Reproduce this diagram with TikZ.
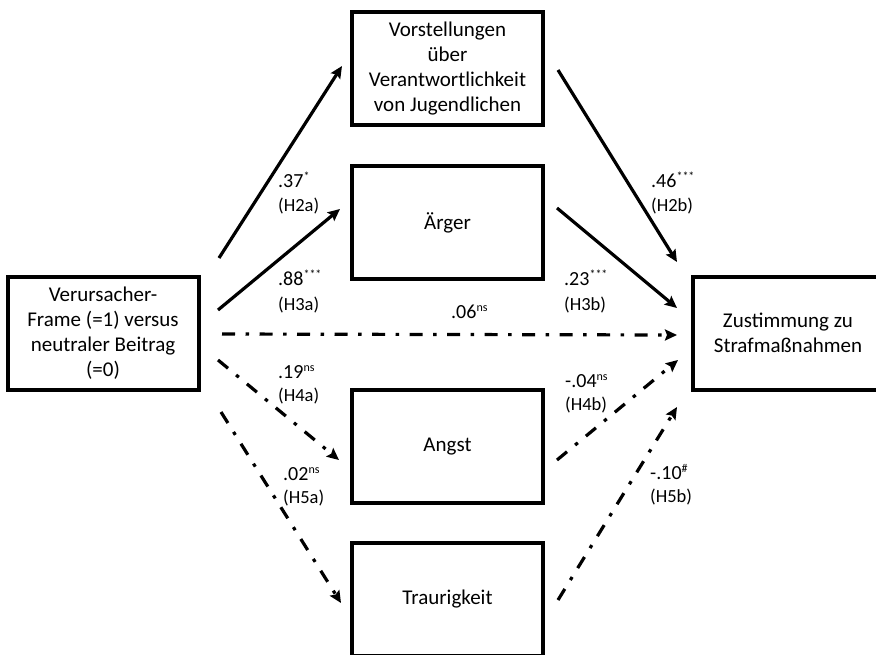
\documentclass[tikz,border=0pt]{standalone}
\usepackage{fontspec}
\setmainfont{Carlito}
\usetikzlibrary{arrows.meta,calc}
\newcommand\supsig[1]{\raisebox{7pt}{\fontsize{12}{12}\selectfont #1}}
\begin{document}
\begin{tikzpicture}[x=1pt,y=-1pt,
  box/.style={draw=black, line width=4pt, minimum width=191pt, minimum height=113pt,
    align=center, inner sep=0pt, outer sep=0pt, font=\fontsize{21}{25}\selectfont},
  arr/.style={line width=3.2pt, -{Stealth[length=12pt,width=11pt,inset=2pt]}},
  dd/.style={arr, dash pattern=on 13pt off 10.5pt on 3.5pt off 10.5pt},
  num/.style={anchor=base west, inner sep=0pt, font=\fontsize{20}{24}\selectfont},
  hyp/.style={anchor=base west, inner sep=0pt, font=\fontsize{18.5}{22}\selectfont}]
\useasboundingbox (0,0) rectangle (876,654);
\clip (0,0) rectangle (876,654);
\fill[white] (0,0) rectangle (876,654);

% boxes
\node[box] (L) at (103,333) {Verursacher-\\Frame (=1) versus\\neutraler Beitrag\\(=0)};
\node[box] (V) at (447.5,68.5) {Vorstellungen\\über\\Verantwortlichkeit\\von Jugendlichen};
\node[box] (A) at (447.5,222.5) {Ärger};
\node[box] (G) at (447.5,446.5) {Angst};
\node[box] (T) at (447.5,599.5) {Traurigkeit};
\node[box] (Z) at (788,333) {Zustimmung zu\\Strafmaßnahmen};

% a-paths
\draw[arr] ($(L)+(116,-75)$) -- ($(V)+(-105.5,-2.5)$);
\draw[arr] ($(L)+(115,-23)$) -- ($(A)+(-107.5,-13.5)$);
\draw[dd]  ($(L)+(119,1)$) -- ($(Z)+(-111,2)$);
\draw[dd]  ($(L)+(115,27)$) -- ($(G)+(-108.5,13.5)$);
\draw[dd]  ($(L)+(118,79)$) -- ($(T)+(-106.5,3.5)$);
% b-paths
\draw[arr] ($(V)+(110.5,1.5)$) -- ($(Z)+(-111,-71)$);
\draw[arr] ($(A)+(109.5,-14.5)$) -- ($(Z)+(-111,-25)$);
\draw[dd]  ($(G)+(109.5,13.5)$) -- ($(Z)+(-110,27)$);
\draw[dd]  ($(T)+(110.5,0.5)$) -- ($(Z)+(-111,74)$);

% labels
\node[num] (n2a) at (278,187) {.37\supsig{*}};
\node[hyp] (h2a) at (278,211) {(H2a)};
\node[num] (n3a) at (278,285) {.88\supsig{***}};
\node[hyp] (h3a) at (278,310) {(H3a)};
\node[num] (n06) at (451,318) {.06\supsig{ns}};
\node[num] (n2b) at (651,187) {.46\supsig{***}};
\node[hyp] (h2b) at (651,211) {(H2b)};
\node[num] (n3b) at (564,285) {.23\supsig{***}};
\node[hyp] (h3b) at (564,310) {(H3b)};
\node[num] (n4a) at (278,378) {.19\supsig{ns}};
\node[hyp] (h4a) at (278,401) {(H4a)};
\node[num] (n5a) at (283,480) {.02\supsig{ns}};
\node[hyp] (h5a) at (283,503) {(H5a)};
\node[num] (n4b) at (565,387) {-.04\supsig{ns}};
\node[hyp] (h4b) at (565,410) {(H4b)};
\node[num] (n5b) at (650,479) {-.10\supsig{\#}};
\node[hyp] (h5b) at (650,502) {(H5b)};
\end{tikzpicture}
\end{document}
